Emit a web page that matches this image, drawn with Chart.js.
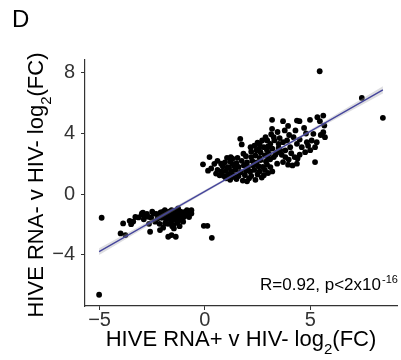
<!DOCTYPE html>
<html>
<head>
<meta charset="utf-8">
<script src="https://cdn.jsdelivr.net/npm/chart.js@4"></script>
<style>
  html, body { margin: 0; padding: 0; background: #fff; }
  #wrap { width: 401px; height: 360px; position: relative; }
</style>
</head>
<body>
<div id="wrap"><canvas id="scatterChart"></canvas></div>
<script>
// datos (log2 FC)
const negX = [-3.88,-4.00,-3.77,-3.57,-3.50,-3.15,-2.94,-2.83,-2.68,-2.60,
  -2.44,-2.36,-2.20,-2.13,-2.00,-1.89,-1.82,-1.74,-1.66,-1.58,
  -1.50,-1.47,-1.38,-1.35,-1.27,-1.19,-1.11,-1.03,-0.95,-0.80,-0.64,
  -3.00,-2.75,-2.55,-2.50,-2.30,-2.25,-2.10,-2.05,-1.95,-1.90,
  -1.85,-1.78,-1.70,-1.62,-1.55,-1.52,-1.45,-1.42,-1.40,-1.32,
  -1.30,-1.25,-1.22,-1.15,-1.10,-1.05,-1.00,-0.90,-0.85,-0.75,
  -1.60,-1.75,-2.15,-1.20,-1.55,-3.30,-3.40,-2.90,-2.65,-1.98,-2.99,-1.58,-0.64];
const negY = [-1.92,-2.58,-2.69,-1.75,-1.97,-1.53,-1.22,-1.44,-1.49,-2.47,
  -1.27,-1.81,-1.49,-2.36,-1.16,-1.92,-1.27,-2.80,-1.60,-1.05,
  -2.03,-2.25,-2.80,-1.27,-0.94,-1.70,-1.38,-1.81,-1.16,-1.22,-1.27,
  -1.35,-1.30,-1.55,-1.15,-1.30,-1.60,-1.20,-1.55,-1.40,-1.05,
  -1.65,-1.45,-1.15,-1.35,-1.55,-1.25,-1.50,-1.10,-1.70,-1.45,
  -1.90,-1.20,-1.55,-1.15,-1.60,-1.30,-1.50,-1.40,-1.05,-1.50,
  -1.80,-1.95,-1.95,-2.10,-2.10,-1.50,-1.80,-1.65,-1.95,-2.20,-1.27,-2.69,-1.05];

const posX = [3.19,3.71,4.37,4.49,4.99,5.34,5.62,5.46,4.71,3.79,
  5.67,5.62,5.70,5.15,5.07,5.31,4.84,5.23,4.76,5.23,
  4.16,4.26,3.98,4.21,4.37,4.60,4.05,3.82,3.90,3.19,
  2.96,3.27,3.50,3.71,3.58,3.43,3.27,3.04,2.80,2.72,
  2.88,3.11,3.43,3.71,3.11,3.82,1.68,1.75,2.17,1.83,
  1.31,0.22,-0.09,0.77,0.53,1.08,2.57,1.31,1.23,4.37,
  1.20,1.50,1.80,2.10,2.40,2.70,1.00,2.00,
  0.90,1.10,1.35,1.60,1.90,2.20,2.50,2.80,3.00,0.70,
  0.80,1.00,1.25,1.45,1.70,1.95,2.15,2.35,2.60,2.85,0.60,3.20,
  0.85,1.15,1.40,1.60,1.85,2.05,2.30,2.55,2.75,2.95,1.30,
  0.95,1.20,1.50,1.75,2.00,2.25,2.45,2.65,2.90,3.10,0.60,
  1.05,1.55,1.95,2.20,2.40,2.60,2.85,3.00,3.35,
  2.20,2.45,2.65,2.95,3.20,3.50,3.65,2.35,2.60,3.00,
  3.30,3.55,3.15,2.50,4.00,4.50,4.80,3.95,4.30,3.45,
  5.00,4.50,4.90,5.50,4.10,4.40,3.95,
  0.30,0.45,0.15];
const posY = [4.90,4.81,4.85,4.81,4.90,5.07,5.18,4.81,4.37,4.20,
  4.52,4.09,3.76,3.98,3.54,3.43,3.43,3.10,2.77,2.12,
  1.90,2.45,2.28,3.76,3.32,3.10,3.10,2.89,3.54,4.31,
  3.54,3.76,3.32,3.43,2.89,2.77,2.45,2.67,3.10,3.54,
  3.76,3.32,2.01,2.12,1.79,2.45,3.65,3.28,3.10,2.67,
  2.34,2.45,1.97,2.01,1.36,1.79,3.00,1.13,2.45,2.01,
  0.95,1.00,0.90,1.05,0.95,1.10,1.05,0.85,
  1.20,1.30,1.25,1.20,1.25,1.20,1.30,1.25,1.40,1.25,
  1.50,1.55,1.50,1.60,1.45,1.55,1.50,1.60,1.50,1.60,1.60,1.50,
  1.85,1.75,1.85,1.80,1.90,1.80,1.90,1.85,1.80,1.95,2.00,
  2.10,2.15,2.05,2.20,2.10,2.20,2.10,2.25,2.15,2.30,2.20,
  2.40,2.40,2.50,2.45,2.55,2.40,2.55,2.40,2.60,
  2.80,2.90,2.75,2.90,3.00,3.05,2.60,3.20,3.30,3.15,
  3.55,3.70,3.95,3.40,3.90,3.60,4.00,4.50,4.20,4.10,
  2.90,2.60,3.20,3.90,2.70,2.35,1.95,
  1.70,2.00,1.55];

const outX = [-5.02,-4.90,5.45,7.45,8.45,-0.05,0.12,0.33];
const outY = [-6.62,-1.55,8.10,6.34,5.03,-2.08,-2.08,-2.87];

// recta de regresion y banda de confianza
const fitX = [-5.02,-2.00,1.50,5.00,8.45];
const fitY = [-3.78,-1.39,1.375,4.14,6.87];
const fitLow = [-4.00,-1.51,1.305,4.04,6.63];
const fitHigh = [-3.56,-1.27,1.445,4.24,7.11];

const xTicks = [-5, 0, 5];
const yTicks = [-4, 0, 4, 8];

const zip = (xs, ys) => xs.map((x, i) => ({ x: x, y: ys[i] }));
const allPoints = zip(negX, negY).concat(zip(posX, posY), zip(outX, outY));

const FONT = "'Liberation Sans', Arial, Helvetica, sans-serif";

// titulos con subindice y texto de la anotacion
const textPlugin = {
  id: 'textPlugin',
  afterDraw(chart) {
    const ctx = chart.ctx;
    const area = chart.chartArea;
    ctx.save();
    ctx.fillStyle = '#000';

    function subTitle(before, sub, after, cx, cy) {
      ctx.font = '22px ' + FONT;
      const w1 = ctx.measureText(before).width;
      const w3 = ctx.measureText(after).width;
      ctx.font = '15px ' + FONT;
      const w2 = ctx.measureText(sub).width;
      let x = cx - (w1 + w2 + w3) / 2;
      ctx.textBaseline = 'alphabetic';
      ctx.textAlign = 'left';
      ctx.font = '22px ' + FONT;
      ctx.fillText(before, x, cy);
      x += w1;
      ctx.font = '15px ' + FONT;
      ctx.fillText(sub, x, cy + 8);
      x += w2;
      ctx.font = '22px ' + FONT;
      ctx.fillText(after, x, cy);
    }

    // titulo eje x
    subTitle('HIVE RNA+ v HIV- log', '2', '(FC)', (area.left + area.right) / 2, 346);

    // titulo eje y (rotado)
    ctx.save();
    ctx.translate(43, (area.top + area.bottom) / 2 + 2);
    ctx.rotate(-Math.PI / 2);
    subTitle('HIVE RNA- v HIV- log', '2', '(FC)', 0, 0);
    ctx.restore();

    // letra del panel
    ctx.font = '24px ' + FONT;
    ctx.textAlign = 'left';
    ctx.textBaseline = 'alphabetic';
    ctx.fillText('D', 12, 27);

    // anotacion R y p
    ctx.font = '17px ' + FONT;
    const main = 'R=0.92, p<2x10';
    ctx.fillText(main, 260, 290);
    const mw = ctx.measureText(main).width;
    ctx.font = '11px ' + FONT;
    ctx.fillText('-16', 260 + mw + 1, 283);
    ctx.restore();
  }
};

new Chart(document.getElementById('scatterChart').getContext('2d'), {
  type: 'scatter',
  data: {
    datasets: [
      {
        type: 'line',
        data: zip(fitX, fitHigh),
        borderWidth: 0,
        borderColor: 'rgba(0,0,0,0)',
        pointRadius: 0,
        fill: false,
        order: 2
      },
      {
        type: 'line',
        data: zip(fitX, fitLow),
        borderWidth: 0,
        borderColor: 'rgba(0,0,0,0)',
        backgroundColor: 'rgba(160,160,170,0.35)',
        pointRadius: 0,
        fill: '-1',
        order: 2
      },
      {
        type: 'line',
        data: zip(fitX, fitY),
        borderColor: '#45459c',
        borderWidth: 1.3,
        pointRadius: 0,
        fill: false,
        order: 1
      },
      {
        data: allPoints,
        backgroundColor: '#000',
        borderColor: '#000',
        borderWidth: 0,
        pointRadius: 2.9,
        order: 3
      }
    ]
  },
  options: {
    responsive: true,
    maintainAspectRatio: false,
    animation: false,
    layout: { padding: { top: 60, left: 0, right: 0, bottom: 0 } },
    plugins: { legend: { display: false }, tooltip: { enabled: false } },
    scales: {
      x: {
        type: 'linear',
        min: -5.69,
        max: 9.12,
        afterBuildTicks: (s) => { s.ticks = xTicks.map(v => ({ value: v })); },
        afterFit: (s) => { s.height = 54; },
        grid: { drawOnChartArea: false, drawTicks: true, tickLength: 4, color: '#333' },
        border: { display: true, color: '#333', width: 1.2 },
        ticks: {
          color: '#333',
          padding: -2,
          maxRotation: 0,
          font: { family: FONT, size: 20 },
          callback: (v) => (v < 0 ? '\u2212' + Math.abs(v) : String(v))
        }
      },
      y: {
        type: 'linear',
        min: -7.36,
        max: 8.84,
        afterBuildTicks: (s) => { s.ticks = yTicks.map(v => ({ value: v })); },
        afterFit: (s) => { s.width = 85; },
        grid: { drawOnChartArea: false, drawTicks: true, tickLength: 4, color: '#333' },
        border: { display: true, color: '#333', width: 1.2 },
        ticks: {
          color: '#333',
          padding: 6,
          font: { family: FONT, size: 20 },
          callback: (v) => (v < 0 ? '\u2212' + Math.abs(v) : String(v))
        }
      }
    }
  },
  plugins: [textPlugin]
});
</script>
</body>
</html>
